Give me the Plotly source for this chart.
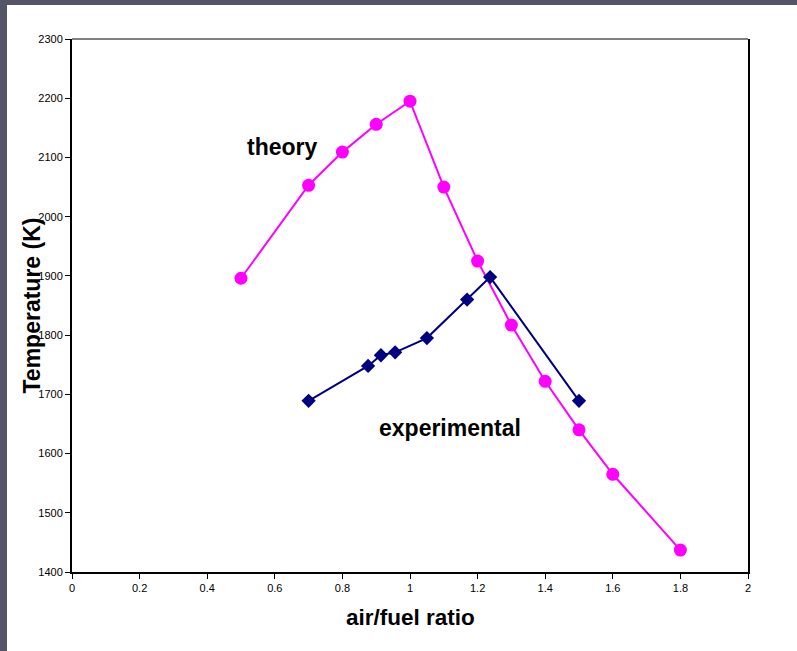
import plotly.graph_objects as go

# Theory curve
theory_x = [0.5, 0.7, 0.8, 0.9, 1.0, 1.1, 1.2, 1.3, 1.4, 1.5, 1.6, 1.8]
theory_y = [1896, 2053, 2109, 2156, 2195, 2050, 1925, 1817, 1722, 1640, 1565, 1437]

# Experimental curve
exp_x = [0.70, 0.876, 0.914, 0.956, 1.05, 1.169, 1.237, 1.50]
exp_y = [1689, 1748, 1766, 1771, 1795, 1860, 1898, 1689]

x_ticks = [0, 0.2, 0.4, 0.6, 0.8, 1, 1.2, 1.4, 1.6, 1.8, 2]
y_ticks = [1400, 1500, 1600, 1700, 1800, 1900, 2000, 2100, 2200, 2300]

FONT = "Liberation Sans, Arial, sans-serif"

fig = go.Figure()
fig.add_trace(go.Scatter(
    x=theory_x, y=theory_y, mode="lines+markers", name="theory",
    line=dict(color="#FF00FF", width=2),
    marker=dict(symbol="circle", size=13, color="#FF00FF"),
    cliponaxis=False,
))
fig.add_trace(go.Scatter(
    x=exp_x, y=exp_y, mode="lines+markers", name="experimental",
    line=dict(color="#000080", width=2),
    marker=dict(symbol="diamond", size=11, color="#000080"),
    cliponaxis=False,
))

fig.update_layout(
    width=797, height=651,
    margin=dict(l=72, r=49, t=39, b=79),
    paper_bgcolor="white", plot_bgcolor="white",
    showlegend=False,
    font=dict(family=FONT, color="black", size=11),
    xaxis=dict(
        range=[0, 2], tickvals=x_ticks, ticktext=[str(v) for v in x_ticks],
        showgrid=False, zeroline=False, showline=True, linecolor="black",
        linewidth=2, ticks="outside", ticklen=5, tickcolor="black",
        tickfont=dict(size=11, family=FONT), mirror=False,
    ),
    yaxis=dict(
        range=[1400, 2300], tickvals=y_ticks,
        showgrid=False, zeroline=False, showline=True, linecolor="black",
        linewidth=2, ticks="outside", ticklen=5, tickcolor="black",
        tickfont=dict(size=11, family=FONT), mirror=True,
    ),
    annotations=[
        dict(text="<b>theory</b>", x=0.624, y=2118, xref="x", yref="y",
             xanchor="center", yanchor="middle",
             showarrow=False, font=dict(size=23, family=FONT)),
        dict(text="<b>experimental</b>", x=1.118, y=1643, xref="x", yref="y",
             xanchor="center", yanchor="middle",
             showarrow=False, font=dict(size=23, family=FONT)),
        dict(text="<b>air/fuel ratio</b>", x=0.5, y=-0.0863, xref="paper", yref="paper",
             xanchor="center", yanchor="middle",
             showarrow=False, font=dict(size=22.5, family=FONT)),
        dict(text="<b>Temperature (K)</b>", x=-0.0592, y=0.5, xref="paper", yref="paper",
             xanchor="center", yanchor="middle",
             textangle=-90, showarrow=False, font=dict(size=23, family=FONT)),
    ],
    shapes=[
        # gray top border of plot area
        dict(type="line", xref="paper", yref="paper", x0=0, x1=1, y0=1, y1=1,
             line=dict(color="#808080", width=2)),
        # dark slide frame: top band and left band
        dict(type="rect", xref="paper", yref="paper", x0=-0.2, x1=1.2,
             y0=1 + 34/533, y1=1.2, fillcolor="#545566", line=dict(width=0), layer="above"),
        dict(type="rect", xref="paper", yref="paper", x0=-0.2, x1=-65/676,
             y0=-0.3, y1=1.2, fillcolor="#545566", line=dict(width=0), layer="above"),
    ],
)

fig.write_html("out.html", config={"displayModeBar": False},
               post_script="document.body.style.margin='0';")
